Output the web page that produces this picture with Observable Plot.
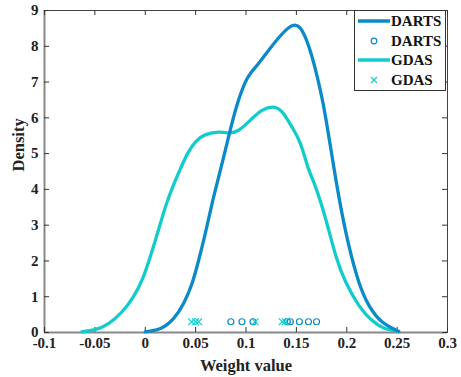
<!DOCTYPE html>
<html>
<head>
<meta charset="utf-8">
<script src="https://cdn.jsdelivr.net/npm/d3@7"></script>
<script src="https://cdn.jsdelivr.net/npm/@observablehq/plot@0.6"></script>
<style>
  html, body { margin: 0; padding: 0; background: #fff; }
  #wrap { position: relative; width: 461px; height: 377px; }
  #legend { position: absolute; }
</style>
</head>
<body>
<div id="wrap"></div>
<script>
// ---- data ----
const dartsCurveX = [0, 0.015, 0.028, 0.038, 0.0464, 0.053, 0.0596, 0.0663, 0.0745, 0.083, 0.091, 0.101, 0.111, 0.1225, 0.136, 0.1463, 0.1556, 0.1656, 0.1738, 0.179, 0.187, 0.1937, 0.202, 0.212, 0.222, 0.235, 0.2516];
const dartsCurveY = [0.02, 0.11, 0.39, 0.81, 1.37, 2.02, 2.77, 3.60, 4.53, 5.50, 6.35, 7.09, 7.47, 7.89, 8.35, 8.58, 8.44, 7.70, 6.77, 6.02, 4.65, 3.56, 2.44, 1.41, 0.76, 0.30, 0.03];
const gdasCurveX = [-0.063, -0.05, -0.0365, -0.023, -0.012, -0.002, 0.007, 0.0135, 0.0205, 0.028, 0.035, 0.042, 0.05, 0.06, 0.073, 0.083, 0.093, 0.106, 0.116, 0.1265, 0.136, 0.1457, 0.154, 0.162, 0.169, 0.179, 0.189, 0.199, 0.212, 0.225, 0.238, 0.2516];
const gdasCurveY = [0.02, 0.08, 0.25, 0.58, 0.99, 1.55, 2.30, 2.90, 3.55, 4.12, 4.58, 5.00, 5.33, 5.53, 5.60, 5.58, 5.66, 5.98, 6.21, 6.30, 6.16, 5.74, 5.28, 4.58, 4.07, 3.18, 2.16, 1.41, 0.76, 0.34, 0.11, 0.03];
const dartsPoints = [0.085, 0.096, 0.107, 0.141, 0.144, 0.153, 0.162, 0.170];
const gdasPoints = [0.046, 0.050, 0.053, 0.109, 0.136, 0.139];
const pointLevel = 0.3;
const xTicks = [-0.1, -0.05, 0, 0.05, 0.1, 0.15, 0.2, 0.25, 0.3];
const yTicks = [0, 1, 2, 3, 4, 5, 6, 7, 8, 9];
const seriesNames = ["DARTS", "GDAS"];
const seriesColors = ["#0a8ac8", "#12cccc"];
const xLabel = "Weight value";
const yLabel = "Density";

const darts = dartsCurveX.map((x, i) => ({x, y: dartsCurveY[i]}));
const gdas = gdasCurveX.map((x, i) => ({x, y: gdasCurveY[i]}));
const dartsPts = dartsPoints.map(x => ({x, y: pointLevel}));
const gdasPts = gdasPoints.map(x => ({x, y: pointLevel}));

const W = 461, H = 377;
const mL = 44, mR = 14, mT = 10, mB = 45;
const fw = W - mL - mR, fh = H - mT - mB;
const font = "'Liberation Serif', 'Times New Roman', serif";
const fmt = d => String(d);

const chart = Plot.plot({
  width: W, height: H,
  marginLeft: mL, marginRight: mR, marginTop: mT, marginBottom: mB,
  style: {fontFamily: font, fontSize: "15px", fontWeight: "bold", color: "#222", background: "#fff"},
  x: {domain: [-0.1, 0.3]},
  y: {domain: [0, 9]},
  marks: [
    Plot.frame({stroke: "#444", strokeWidth: 1}),
    Plot.ruleX([-0.1], {stroke: "#888", strokeWidth: 2}),
    Plot.ruleY([0], {stroke: "#888", strokeWidth: 2}),
    // inward tick marks
    Plot.tickX(xTicks, {x: d => d, insetTop: fh - 5, stroke: "#333"}),
    Plot.tickX(xTicks, {x: d => d, insetBottom: fh - 5, stroke: "#333"}),
    Plot.tickY(yTicks, {y: d => d, insetRight: fw - 5, stroke: "#333"}),
    Plot.tickY(yTicks, {y: d => d, insetLeft: fw - 5, stroke: "#333"}),
    Plot.axisX(xTicks, {anchor: "bottom", tickSize: 0, tickPadding: 5, tickFormat: fmt,
      fontSize: 15, fontWeight: "bold", label: null}),
    Plot.axisY(yTicks, {anchor: "left", tickSize: 0, tickPadding: 6, tickFormat: fmt,
      fontSize: 15, fontWeight: "bold", label: null}),
    Plot.text([xLabel], {frameAnchor: "bottom", lineAnchor: "middle", dy: 33, fontSize: 16.5, fontWeight: "bold", fill: "#222"}),
    Plot.text([yLabel], {frameAnchor: "left", dx: -26, rotate: -90, fontSize: 16.5, fontWeight: "bold", fill: "#222"}),
    Plot.line(gdas, {x: "x", y: "y", stroke: seriesColors[1], strokeWidth: 3.3, curve: "natural"}),
    Plot.line(darts, {x: "x", y: "y", stroke: seriesColors[0], strokeWidth: 3.3, curve: "natural"}),
    Plot.dot(dartsPts, {x: "x", y: "y", r: 3, stroke: seriesColors[0], strokeWidth: 1.2, fill: "none"}),
    Plot.dot(gdasPts, {x: "x", y: "y", r: 3.2, symbol: "times", stroke: seriesColors[1], strokeWidth: 1.2})
  ]
});

const wrap = document.getElementById("wrap");
wrap.appendChild(chart);

// legend box, top-right inside the frame
const lg = d3.select(wrap).append("svg").attr("id", "legend")
  .attr("width", 92).attr("height", 81)
  .style("left", "354px").style("top", "10px");
lg.append("rect").attr("x", 0.5).attr("y", 0.5).attr("width", 91).attr("height", 80)
  .attr("fill", "#fff").attr("stroke", "#333").attr("stroke-width", 1);
const rows = [
  {name: seriesNames[0], color: seriesColors[0], kind: "line"},
  {name: seriesNames[0], color: seriesColors[0], kind: "circle"},
  {name: seriesNames[1], color: seriesColors[1], kind: "line"},
  {name: seriesNames[1], color: seriesColors[1], kind: "cross"}
];
const rowY = [11, 31, 50, 70];
rows.forEach((r, i) => {
  const y = rowY[i];
  if (r.kind === "line") {
    lg.append("line").attr("x1", 4).attr("x2", 36).attr("y1", y).attr("y2", y)
      .attr("stroke", r.color).attr("stroke-width", 3.5);
  } else if (r.kind === "circle") {
    lg.append("circle").attr("cx", 20).attr("cy", y).attr("r", 2.8)
      .attr("fill", "none").attr("stroke", r.color).attr("stroke-width", 1.2);
  } else {
    lg.append("path").attr("d", `M${17},${y-3}L${23},${y+3}M${17},${y+3}L${23},${y-3}`)
      .attr("stroke", r.color).attr("stroke-width", 1.2);
  }
  lg.append("text").attr("x", 37).attr("y", y).attr("dy", "0.35em")
    .attr("font-family", font).attr("font-weight", "bold").attr("font-size", 15)
    .attr("fill", "#111").text(r.name);
});
</script>
</body>
</html>
